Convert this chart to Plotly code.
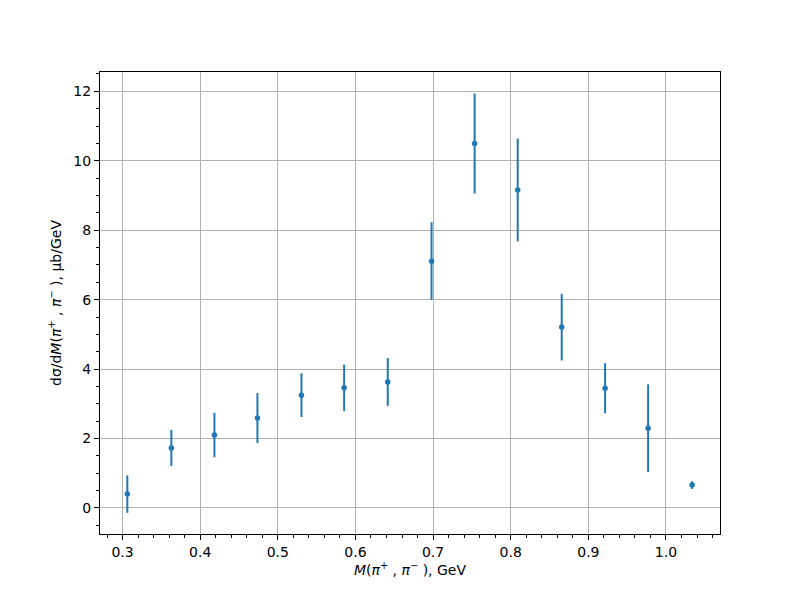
import plotly.graph_objects as go

mass = [0.3061, 0.3628, 0.4183, 0.4737, 0.5304, 0.5854, 0.6416,
        0.6980, 0.7535, 0.8090, 0.8657, 0.9216, 0.9770, 1.0337]
xsec = [0.40, 1.73, 2.10, 2.59, 3.25, 3.46, 3.63,
        7.11, 10.50, 9.16, 5.21, 3.45, 2.30, 0.66]
xsec_err = [0.54, 0.52, 0.64, 0.72, 0.63, 0.67, 0.69,
            1.12, 1.44, 1.48, 0.96, 0.72, 1.26, 0.11]

blue = "#1f77b4"
font = dict(family="DejaVu Sans", size=14, color="black")

fig = go.Figure()
fig.add_trace(go.Scatter(
    x=mass, y=xsec, mode="markers",
    marker=dict(color=blue, size=5.5),
    error_y=dict(type="data", array=xsec_err, visible=True,
                 color=blue, thickness=2, width=0),
    showlegend=False,
))

axis_common = dict(
    showline=True, linecolor="black", linewidth=1.1, mirror=True,
    ticks="outside", ticklen=5, tickwidth=1.1, tickcolor="black",
    showgrid=True, gridcolor="#b0b0b0", gridwidth=1.1,
    zeroline=False, tickfont=font, automargin=False,
)

fig.update_layout(
    width=800, height=600,
    margin=dict(l=92, r=88, t=64, b=74),
    plot_bgcolor="white", paper_bgcolor="white",
    font=font,
    xaxis=dict(
        range=[0.2709, 1.0696], tick0=0.3, dtick=0.1, tickformat=".1f",
        title=dict(text="<i>M</i>(<i>π</i><sup>+</sup> , <i>π</i><sup>−</sup> ), GeV",
                   font=font, standoff=6),
        minor=dict(dtick=0.02, tick0=0.3, ticks="outside", ticklen=3,
                   tickwidth=0.8, tickcolor="black", showgrid=False),
        **axis_common,
    ),
    yaxis=dict(
        range=[-0.749, 12.557], tick0=0, dtick=2,
        title=dict(text="dσ/d<i>M</i>(<i>π</i><sup>+</sup> , <i>π</i><sup>−</sup> ), μb/GeV",
                   font=font, standoff=8),
        minor=dict(dtick=0.5, tick0=0, ticks="outside", ticklen=3,
                   tickwidth=0.8, tickcolor="black", showgrid=False),
        **axis_common,
    ),
)

fig.write_html("out.html")
